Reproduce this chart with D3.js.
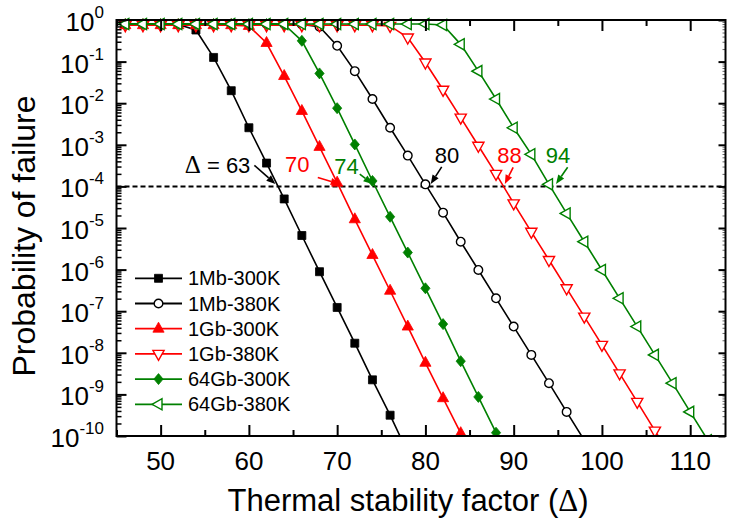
<!DOCTYPE html>
<html><head><meta charset="utf-8">
<script src="https://cdn.jsdelivr.net/npm/d3@7"></script>
<style>
body{margin:0;background:#fff}
text{font-family:Arial,"Liberation Sans",sans-serif;fill:#000}
</style>
</head><body>
<svg id="chart" width="729" height="522"></svg>
<script>
// ---------- data ----------
const seriesNames = ["1Mb-300K","1Mb-380K","1Gb-300K","1Gb-380K","64Gb-300K","64Gb-380K"];
const seriesColors = ["#000000","#000000","#ff0000","#ff0000","#008000","#008000"];
const seriesMarkers = ["square","circle","triUp","triDown","diamond","triLeft"];
const seriesFilled = [true,false,true,false,true,false];

const mb300_x = [46,48,50,52,54,56,58,60,62,64,66,68,70,72,74,76,78];
const mb300_p = [0.8,0.8,0.8,0.78,0.575,0.126,0.020,2.57e-3,3.63e-4,5.0e-5,6.6e-6,8.9e-7,1.23e-7,1.70e-8,2.24e-9,3.16e-10,4e-11];

const mb380_x = [46,48,50,52,54,56,58,60,62,64,66,68,70,72,74,76,78,80,82,84,86,88,90,92,94,96,98];
const mb380_p = [0.8,0.8,0.8,0.8,0.8,0.8,0.8,0.8,0.8,0.8,0.78,0.69,0.24,0.059,0.0126,2.57e-3,5.5e-4,1.12e-4,2.34e-5,4.68e-6,9.8e-7,2.04e-7,4.27e-8,8.9e-9,1.86e-9,3.8e-10,7.9e-11];

const gb300_x = [46,48,50,52,54,56,58,60,62,64,66,68,70,72,74,76,78,80,82,84,86];
const gb300_p = [0.75,0.75,0.75,0.75,0.75,0.75,0.75,0.72,0.28,0.045,6.5e-3,8.9e-4,1.23e-4,1.62e-5,2.24e-6,3.1e-7,4.27e-8,5.75e-9,8.1e-10,1.17e-10,1.6e-11];

const gb380_x = [46,48,50,52,54,56,58,60,62,64,66,68,70,72,74,76,78,80,82,84,86,88,90,92,94,96,98,100,102,104,106,108];
const gb380_p = [0.75,0.75,0.75,0.75,0.75,0.75,0.75,0.75,0.75,0.75,0.75,0.75,0.75,0.75,0.75,0.72,0.38,0.095,0.021,4.5e-3,9.5e-4,2.0e-4,3.9e-5,8.1e-6,1.7e-6,3.55e-7,7.4e-8,1.55e-8,3.2e-9,6.6e-10,1.35e-10,2.8e-11];

const gb64_300_x = [46,48,50,52,54,56,58,60,62,64,66,68,70,72,74,76,78,80,82,84,86,88,90];
const gb64_300_p = [0.8,0.8,0.8,0.8,0.8,0.8,0.8,0.8,0.8,0.78,0.316,0.052,7.6e-3,1.02e-3,1.35e-4,1.86e-5,2.57e-6,3.55e-7,4.9e-8,6.3e-9,8.7e-10,1.2e-10,1.6e-11];

const gb64_380_x = [46,48,50,52,54,56,58,60,62,64,66,68,70,72,74,76,78,80,82,84,86,88,90,92,94,96,98,100,102,104,106,108,110,112];
const gb64_380_p = [0.8,0.8,0.8,0.8,0.8,0.8,0.8,0.8,0.8,0.8,0.8,0.8,0.8,0.8,0.8,0.8,0.8,0.8,0.76,0.26,0.059,0.0126,2.57e-3,5.9e-4,1.12e-4,2.24e-5,4.68e-6,9.8e-7,2.04e-7,4.27e-8,8.9e-9,1.86e-9,3.8e-10,7.9e-11];

const seriesX = [mb300_x, mb380_x, gb300_x, gb380_x, gb64_300_x, gb64_380_x];
const seriesP = [mb300_p, mb380_p, gb300_p, gb380_p, gb64_300_p, gb64_380_p];

const xTicks = [50,60,70,80,90,100,110];
const xMinorTicks = [45,55,65,75,85,95,105];
const yExponents = [0,-1,-2,-3,-4,-5,-6,-7,-8,-9,-10];
const threshold = 1e-4;

const annLabels = ["63","70","74","80","88","94"];
const annTip = [63, 70.3, 74, 80.6, 89, 94.8];
const annColors = ["#000000","#ff0000","#008000","#000000","#ff0000","#008000"];

// ---------- layout ----------
const svg = d3.select("#chart");
const L = 116.5, R = 725.5, T = 20, B = 436;
const x = d3.scaleLinear().domain([45, 114]).range([L, R]);
const y = d3.scaleLog().domain([1e-10, 1]).range([B, T]);

svg.append("defs").append("clipPath").attr("id","clip")
  .append("rect").attr("x", L).attr("y", 8).attr("width", R - L).attr("height", B - 8);

// dashed threshold
svg.append("line").attr("x1", L).attr("x2", R).attr("y1", y(threshold)).attr("y2", y(threshold))
  .attr("stroke","#000").attr("stroke-width",2).attr("stroke-dasharray","5,3");

// marker shapes
function markerPath(kind){
  switch(kind){
    case "square": return "M-4,-4h8v8h-8z";
    case "circle": return d3.symbol(d3.symbolCircle, 58)();
    case "triUp": return "M0,-6.5L5.6,3.5L-5.6,3.5Z";
    case "triDown": return "M0,6.5L5.6,-3.5L-5.6,-3.5Z";
    case "diamond": return "M0,-5.5L4.6,0L0,5.5L-4.6,0Z";
    case "triLeft": return "M-6.5,0L3.5,-5.6L3.5,5.6Z";
  }
}

const plot = svg.append("g").attr("clip-path","url(#clip)");
const line = d3.line().x(d => x(d[0])).y(d => y(Math.max(d[1], 1e-12)));

seriesNames.forEach((name, i) => {
  const pts = seriesX[i].map((v, j) => [v, seriesP[i][j]]);
  const col = seriesColors[i];
  const g = plot.append("g");
  g.append("path").datum(pts).attr("d", line).attr("fill","none")
    .attr("stroke", col).attr("stroke-width", 1.6);
  g.selectAll("path.m").data(pts).enter().append("path").attr("class","m")
    .attr("d", markerPath(seriesMarkers[i]))
    .attr("transform", d => `translate(${x(d[0])},${y(Math.max(d[1],1e-12))})`)
    .attr("fill", seriesFilled[i] ? col : "#fff")
    .attr("stroke", col).attr("stroke-width", seriesFilled[i] ? 0.8 : 1.4);
});

// ---------- axes (inward ticks) ----------
const yMajors = yExponents.map(e => Math.pow(10, e));
const yMinors = [];
yExponents.slice(1).forEach(e => { for (let k = 2; k <= 9; k++) yMinors.push(k * Math.pow(10, e)); });

function styleAxis(g, w){ g.select(".domain").remove(); g.selectAll("line").attr("stroke","#000").attr("stroke-width", w); g.selectAll("text").remove(); }

svg.append("g").attr("transform",`translate(${L},0)`).call(d3.axisLeft(y).tickValues(yMajors).tickSize(-10).tickFormat("")).call(g=>styleAxis(g,2));
svg.append("g").attr("transform",`translate(${L},0)`).call(d3.axisLeft(y).tickValues(yMinors).tickSize(-5).tickFormat("")).call(g=>styleAxis(g,1.5));
svg.append("g").attr("transform",`translate(${R},0)`).call(d3.axisRight(y).tickValues(yMajors).tickSize(-7).tickFormat("")).call(g=>styleAxis(g,2));
svg.append("g").attr("transform",`translate(${R},0)`).call(d3.axisRight(y).tickValues(yMinors).tickSize(-3).tickFormat("")).call(g=>{styleAxis(g,1); g.selectAll("line").attr("stroke","#666");});
svg.append("g").attr("transform",`translate(0,${B})`).call(d3.axisBottom(x).tickValues(xTicks).tickSize(-11).tickFormat("")).call(g=>styleAxis(g,2));
svg.append("g").attr("transform",`translate(0,${B})`).call(d3.axisBottom(x).tickValues(xMinorTicks).tickSize(-6).tickFormat("")).call(g=>styleAxis(g,2));
svg.append("g").attr("transform",`translate(0,${T})`).call(d3.axisTop(x).tickValues(xTicks).tickSize(-11).tickFormat("")).call(g=>styleAxis(g,2));
svg.append("g").attr("transform",`translate(0,${T})`).call(d3.axisTop(x).tickValues(xMinorTicks).tickSize(-6).tickFormat("")).call(g=>styleAxis(g,2));

// frame
svg.append("rect").attr("x", L).attr("y", T).attr("width", R - L).attr("height", B - T)
  .attr("fill","none").attr("stroke","#000").attr("stroke-width",2);

// tick labels
svg.append("g").selectAll("text").data(xTicks).enter().append("text")
  .attr("x", d => x(d)).attr("y", 470).attr("text-anchor","middle")
  .attr("font-size", 26).text(d => d);

const yl = svg.append("g").selectAll("text").data(yExponents).enter().append("text")
  .attr("x", 104).attr("y", d => y(Math.pow(10, d)) + 11).attr("text-anchor","end").attr("font-size", 26);
yl.append("tspan").text("10");
yl.append("tspan").attr("font-size", 17).attr("dy", -13).text(d => d === 0 ? "0" : "-" + Math.abs(d));

// axis titles
const xt = svg.append("text").attr("x", 408).attr("y", 511).attr("text-anchor","middle").attr("font-size", 31);
xt.append("tspan").text("Thermal stability factor (");
xt.append("tspan").attr("font-family","'Liberation Serif','Times New Roman',serif").text("Δ");
xt.append("tspan").text(")");

svg.append("text").attr("transform","translate(35,236) rotate(-90)").attr("text-anchor","middle")
  .attr("font-size", 32).text("Probability of failure");

// ---------- annotations ----------
const annTailDx = [-21, -22, -12.7, 11, 8.3, 11.6];
const annTailDy = [-18.6, -6.3, -9.7, -17, -16.6, -16.6];
const annTextDx = [-25, -42.5, -26, 16.3, 4.7, 2];
const annTextDy = [-11, -12, -10, -20.7, -21, -21];
const annAnchor = ["end","middle","middle","middle","middle","middle"];

annLabels.forEach((lab, i) => {
  const tx = x(annTip[i]), ty = y(threshold) - 2.5;
  const sx = tx + annTailDx[i], sy = ty + annTailDy[i];
  const ang = Math.atan2(ty - sy, tx - sx);
  const hl = 9, hw = 3.6;
  const bx = tx - hl * Math.cos(ang), by = ty - hl * Math.sin(ang);
  svg.append("line").attr("x1", sx).attr("y1", sy).attr("x2", bx).attr("y2", by)
    .attr("stroke", annColors[i]).attr("stroke-width", 1.6);
  const px = -Math.sin(ang), py = Math.cos(ang);
  svg.append("path").attr("d", `M${tx},${ty}L${bx + px*hw},${by + py*hw}L${bx - px*hw},${by - py*hw}Z`)
    .attr("fill", annColors[i]);
  const t = svg.append("text").attr("x", tx + annTextDx[i]).attr("y", ty + annTextDy[i])
    .attr("text-anchor", annAnchor[i]).attr("font-size", 22).style("fill", annColors[i]);
  if (i === 0) {
    t.append("tspan").attr("font-family","'Liberation Serif','Times New Roman',serif").attr("font-size", 25).text("Δ");
    t.append("tspan").text(" = " + lab);
  } else {
    t.text(lab);
  }
});

// ---------- legend ----------
const lg = svg.append("g");
seriesNames.forEach((name, i) => {
  const cy = 278.3 + i * 25.2;
  const col = seriesColors[i];
  lg.append("line").attr("x1", 135).attr("x2", 182).attr("y1", cy).attr("y2", cy)
    .attr("stroke", col).attr("stroke-width", 1.8);
  lg.append("path").attr("d", markerPath(seriesMarkers[i]))
    .attr("transform", `translate(158.5,${cy})`)
    .attr("fill", seriesFilled[i] ? col : "#fff")
    .attr("stroke", col).attr("stroke-width", seriesFilled[i] ? 0.8 : 1.4);
  lg.append("text").attr("x", 188).attr("y", cy + 7).attr("font-size", 20).text(name);
});
</script>
</body></html>
